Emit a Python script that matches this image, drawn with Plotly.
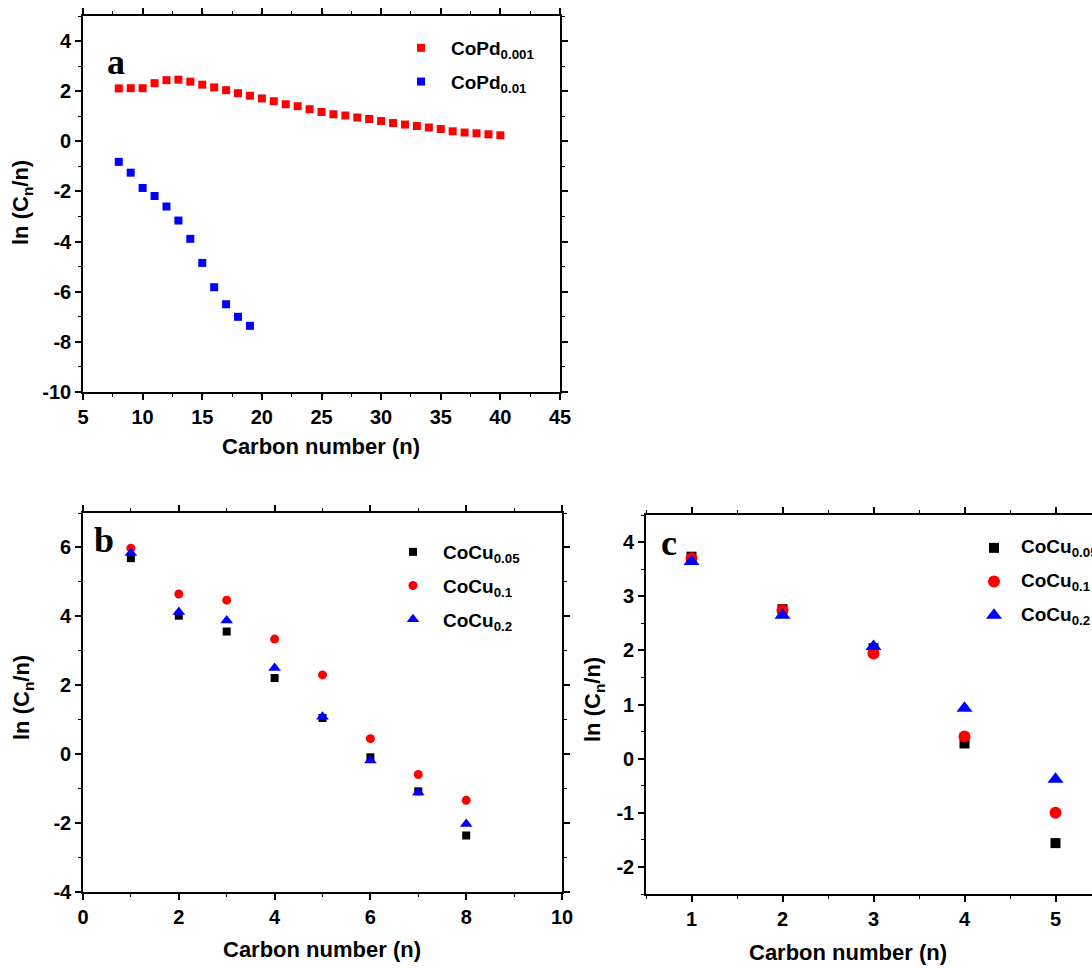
import plotly.graph_objects as go

# ---------------- data ----------------
a_n_red = [8, 9, 10, 11, 12, 13, 14, 15, 16, 17, 18, 19, 20, 21, 22, 23, 24,
           25, 26, 27, 28, 29, 30, 31, 32, 33, 34, 35, 36, 37, 38, 39, 40]
a_red = [2.11, 2.12, 2.12, 2.32, 2.44, 2.46, 2.38, 2.26, 2.15, 2.04, 1.92, 1.82,
         1.71, 1.60, 1.48, 1.40, 1.28, 1.17, 1.08, 1.03, 0.95, 0.89, 0.81, 0.73,
         0.67, 0.61, 0.55, 0.49, 0.40, 0.35, 0.32, 0.28, 0.24]
a_n_blue = [8, 9, 10, 11, 12, 13, 14, 15, 16, 17, 18, 19]
a_blue = [-0.82, -1.25, -1.86, -2.18, -2.60, -3.16, -3.89, -4.85, -5.82, -6.50, -7.00, -7.36]

b_n = [1, 2, 3, 4, 5, 6, 7, 8]
b_cu005 = [5.69, 4.02, 3.56, 2.21, 1.05, -0.09, -1.08, -2.36]
b_cu01 = [5.98, 4.65, 4.47, 3.34, 2.30, 0.45, -0.59, -1.34]
b_cu02 = [5.84, 4.13, 3.88, 2.50, 1.09, -0.18, -1.11, -2.03]

c_n = [1, 2, 3, 4, 5]
c_cu005 = [3.73, 2.76, 2.04, 0.28, -1.56]
c_cu01 = [3.70, 2.74, 1.94, 0.41, -1.00]
c_cu02 = [3.64, 2.65, 2.07, 0.93, -0.38]

# tick values / labels
a_xticks = [5, 10, 15, 20, 25, 30, 35, 40, 45]
a_xlabels = ["5", "10", "15", "20", "25", "30", "35", "40", "45"]
a_yticks = [-10, -8, -6, -4, -2, 0, 2, 4]
a_ylabels = ["-10", "-8", "-6", "-4", "-2", "0", "2", "4"]
b_xticks = [0, 2, 4, 6, 8, 10]
b_xlabels = ["0", "2", "4", "6", "8", "10"]
b_yticks = [-4, -2, 0, 2, 4, 6]
b_ylabels = ["-4", "-2", "0", "2", "4", "6"]
c_xticks = [1, 2, 3, 4, 5]
c_xlabels = ["1", "2", "3", "4", "5"]
c_yticks = [-2, -1, 0, 1, 2, 3, 4]
c_ylabels = ["-2", "-1", "0", "1", "2", "3", "4"]

names_a = ["CoPd<sub>0.001</sub>", "CoPd<sub>0.01</sub>"]
names_bc = ["CoCu<sub>0.05</sub>", "CoCu<sub>0.1</sub>", "CoCu<sub>0.2</sub>"]
panel_labels = ["a", "b", "c"]
x_title = "Carbon number (n)"
y_title = "ln (C<sub>n</sub>/n)"

# ---------------- styling ----------------
W, H = 1092, 968
RED, BLUE, BLACK = "#ff0000", "#0000ff", "#000000"
TICKFONT = dict(family="Liberation Sans", size=20, color="black", weight=700)
TITLEFONT = dict(family="Liberation Sans", size=22, color="black", weight=700)
LEGFONT = dict(family="Liberation Sans", size=19, color="black", weight=700)
LABFONT = dict(family="Liberation Serif", size=36, color="black", weight=700)


def px_x(p):
    return p / W


def px_y(p):
    return 1 - p / H


fig = go.Figure()

# panel a
fig.add_trace(go.Scatter(x=a_n_red, y=a_red, mode="markers", name=names_a[0],
                         marker=dict(symbol="square", size=8, color=RED),
                         xaxis="x", yaxis="y", legend="legend", legendgroup="a1"))
fig.add_trace(go.Scatter(x=a_n_blue, y=a_blue, mode="markers", name=names_a[1],
                         marker=dict(symbol="square", size=8, color=BLUE),
                         xaxis="x", yaxis="y", legend="legend", legendgroup="a2"))
# panel b
fig.add_trace(go.Scatter(x=b_n, y=b_cu005, mode="markers", name=names_bc[0],
                         marker=dict(symbol="square", size=8, color=BLACK),
                         xaxis="x2", yaxis="y2", legend="legend2", legendgroup="b1"))
fig.add_trace(go.Scatter(x=b_n, y=b_cu01, mode="markers", name=names_bc[1],
                         marker=dict(symbol="circle", size=9, color=RED),
                         xaxis="x2", yaxis="y2", legend="legend2", legendgroup="b2"))
fig.add_trace(go.Scatter(x=b_n, y=b_cu02, mode="markers", name=names_bc[2],
                         marker=dict(symbol="triangle-up", size=11, color=BLUE),
                         xaxis="x2", yaxis="y2", legend="legend2", legendgroup="b3"))
# panel c (legend symbols from the library, legend text as annotations so the
# legend box may sit at the clipped right edge like the original)
fig.add_trace(go.Scatter(x=c_n, y=c_cu005, mode="markers", name="",
                         marker=dict(symbol="square", size=10, color=BLACK),
                         xaxis="x3", yaxis="y3", legend="legend3", legendgroup="c1"))
fig.add_trace(go.Scatter(x=c_n, y=c_cu01, mode="markers", name="",
                         marker=dict(symbol="circle", size=12, color=RED),
                         xaxis="x3", yaxis="y3", legend="legend3", legendgroup="c2"))
fig.add_trace(go.Scatter(x=c_n, y=c_cu02, mode="markers", name="",
                         marker=dict(symbol="triangle-up", size=14, color=BLUE),
                         xaxis="x3", yaxis="y3", legend="legend3", legendgroup="c3"))


def bold(labels):
    return ["<b>%s</b>" % t for t in labels]


def axis(domain, rng, tickvals, ticktext, minor_dtick, anchor, mirror="ticks"):
    return dict(domain=domain, range=rng, tickmode="array", tickvals=tickvals,
                ticktext=bold(ticktext), anchor=anchor, automargin=False,
                showline=True, linecolor="black", linewidth=1.6, mirror=mirror,
                ticks="outside", ticklen=6, tickwidth=1.6, tickcolor="black",
                tickfont=TICKFONT, showgrid=False, zeroline=False,
                minor=dict(dtick=minor_dtick, tick0=0, ticks="outside", ticklen=3.5,
                           tickwidth=1.4, tickcolor="black", showgrid=False))


LEGCOMMON = dict(xanchor="left", yanchor="top", font=LEGFONT,
                 bgcolor="rgba(0,0,0,0)", itemwidth=50, tracegroupgap=6)

fig.update_layout(
    width=W, height=H, margin=dict(l=0, r=0, t=0, b=0, autoexpand=False),
    paper_bgcolor="white", plot_bgcolor="white",
    font=dict(family="Liberation Sans", weight=700, color="black"),
    xaxis=axis([px_x(83), px_x(560)], [5, 45], a_xticks, a_xlabels, 2.5, "y"),
    yaxis=axis([px_y(392), px_y(16)], [-10, 5], a_yticks, a_ylabels, 1, "x"),
    xaxis2=axis([px_x(83), px_x(562)], [0, 10], b_xticks, b_xlabels, 1, "y2"),
    yaxis2=axis([px_y(892), px_y(513)], [-4, 7], b_yticks, b_ylabels, 1, "x2"),
    xaxis3=axis([px_x(646), 1.0], [0.5, 0.5 + (W - 646) / 91.0], c_xticks, c_xlabels, 0.5, "y3"),
    yaxis3=axis([px_y(894), px_y(515)], [-2.5, 4.5], c_yticks, c_ylabels, 0.5, "x3", mirror=False),
    legend=dict(x=px_x(391), y=px_y(29), **LEGCOMMON),
    legend2=dict(x=px_x(383), y=px_y(533), **LEGCOMMON),
    legend3=dict(x=px_x(964), y=px_y(529), **LEGCOMMON),
    showlegend=True,
)

annotations = [
    # axis titles
    dict(text=x_title, x=px_x(321), y=px_y(446), xref="paper", yref="paper",
         showarrow=False, font=TITLEFONT, xanchor="center", yanchor="middle"),
    dict(text=x_title, x=px_x(322), y=px_y(949), xref="paper", yref="paper",
         showarrow=False, font=TITLEFONT, xanchor="center", yanchor="middle"),
    dict(text=x_title, x=px_x(848), y=px_y(952), xref="paper", yref="paper",
         showarrow=False, font=TITLEFONT, xanchor="center", yanchor="middle"),
    dict(text=y_title, x=px_x(22), y=px_y(203), xref="paper", yref="paper",
         showarrow=False, font=TITLEFONT, textangle=-90, xanchor="center", yanchor="middle"),
    dict(text=y_title, x=px_x(23), y=px_y(698), xref="paper", yref="paper",
         showarrow=False, font=TITLEFONT, textangle=-90, xanchor="center", yanchor="middle"),
    dict(text=y_title, x=px_x(594), y=px_y(700), xref="paper", yref="paper",
         showarrow=False, font=TITLEFONT, textangle=-90, xanchor="center", yanchor="middle"),
    # panel labels
    dict(text=panel_labels[0], x=px_x(116), y=px_y(62), xref="paper", yref="paper",
         showarrow=False, font=LABFONT, xanchor="center", yanchor="middle"),
    dict(text=panel_labels[1], x=px_x(104), y=px_y(540), xref="paper", yref="paper",
         showarrow=False, font=LABFONT, xanchor="center", yanchor="middle"),
    dict(text=panel_labels[2], x=px_x(669), y=px_y(543), xref="paper", yref="paper",
         showarrow=False, font=LABFONT, xanchor="center", yanchor="middle"),
]
# panel c legend texts
for name, yc in zip(names_bc, [548, 582, 616]):
    annotations.append(dict(text=name, x=px_x(1019), y=px_y(yc), xref="paper", yref="paper",
                            showarrow=False, font=LEGFONT, xanchor="left", yanchor="middle"))
fig.update_layout(annotations=annotations)

fig.write_html("out.html")
